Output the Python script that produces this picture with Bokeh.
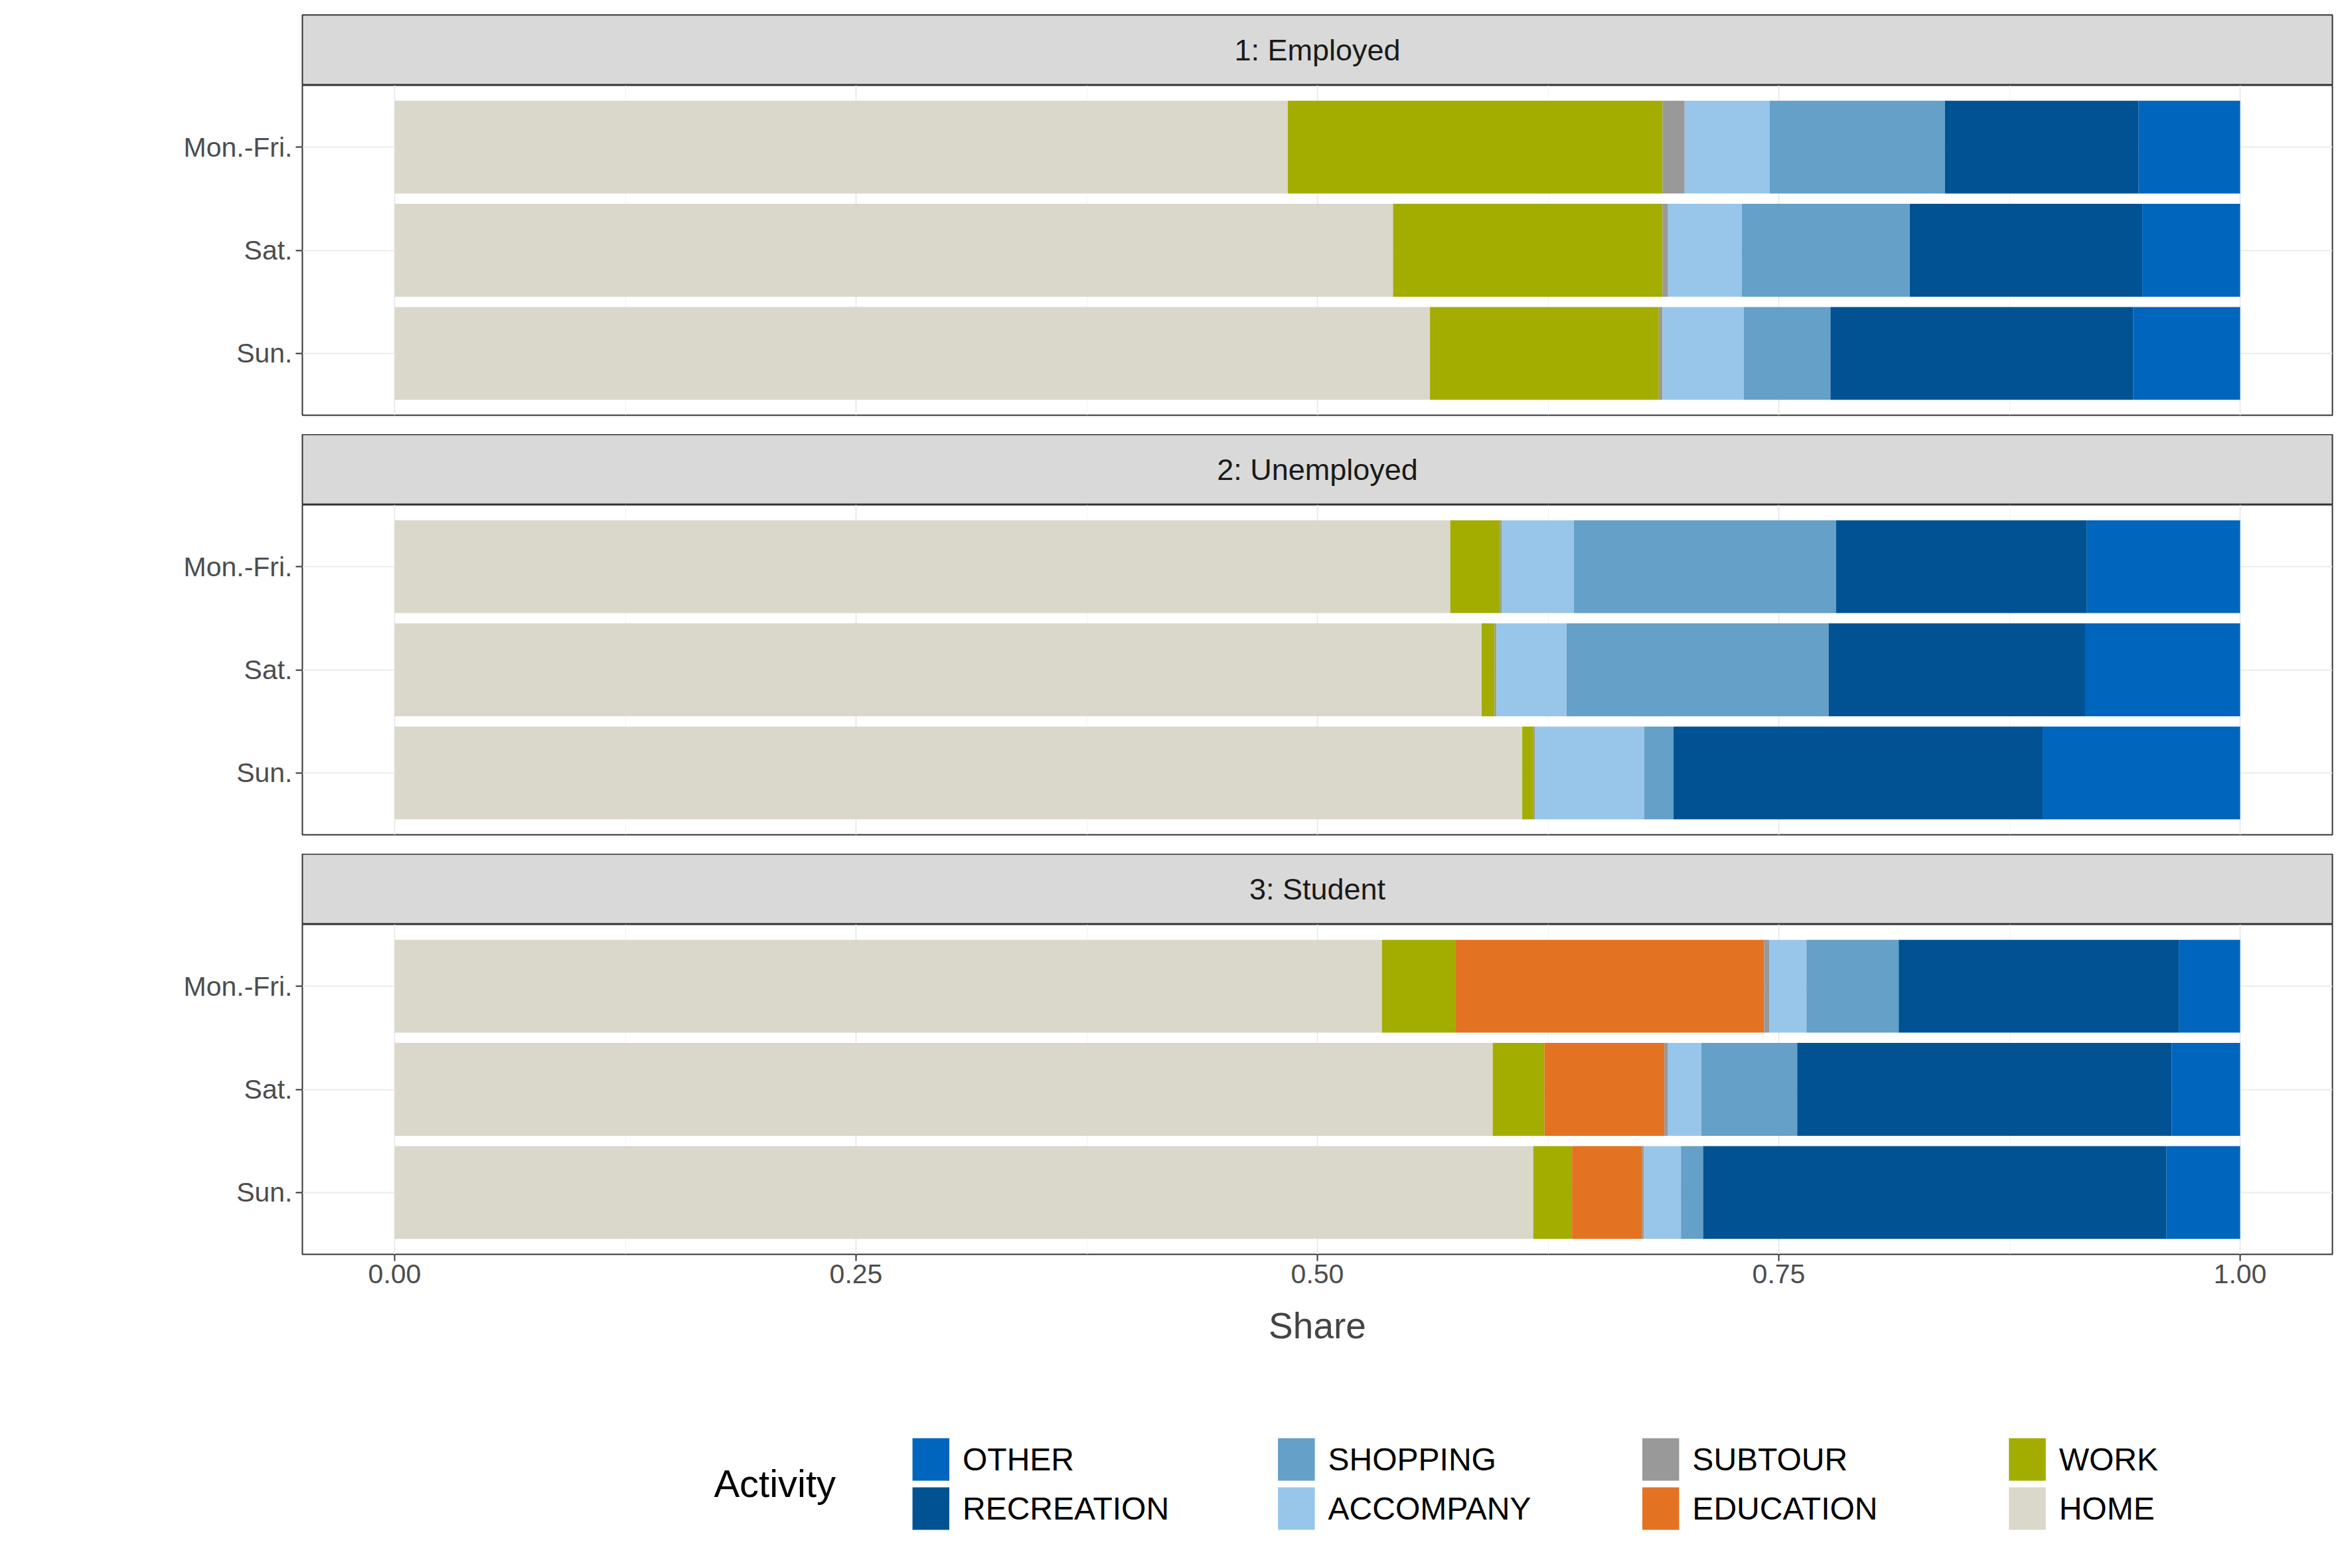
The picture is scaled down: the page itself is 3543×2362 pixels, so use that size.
from bokeh.plotting import figure
from bokeh.layouts import column
from bokeh.models import Range1d, FixedTicker, ColumnDataSource
from bokeh.embed import file_html
from bokeh.resources import INLINE
from bokeh.core.properties import value

groups = ["1: Employed", "2: Unemployed", "3: Student"]
days = ["Mon.-Fri.", "Sat.", "Sun."]
activities = ["HOME", "WORK", "EDUCATION", "SUBTOUR", "ACCOMPANY", "SHOPPING", "RECREATION", "OTHER"]
colors = ["#DAD7CB", "#A2AD00", "#E37222", "#999999", "#98C6EA", "#64A0C8", "#005293", "#0065BD"]
# shares per group, per day (Mon.-Fri., Sat., Sun.), in activity order
shares = {
    "1: Employed": [
        [0.484, 0.203, 0.000, 0.012, 0.046, 0.095, 0.105, 0.055],
        [0.541, 0.146, 0.000, 0.003, 0.040, 0.091, 0.126, 0.053],
        [0.561, 0.124, 0.000, 0.002, 0.044, 0.047, 0.164, 0.058],
    ],
    "2: Unemployed": [
        [0.572, 0.027, 0.000, 0.001, 0.039, 0.142, 0.136, 0.083],
        [0.589, 0.007, 0.000, 0.001, 0.038, 0.142, 0.139, 0.084],
        [0.611, 0.006, 0.000, 0.001, 0.059, 0.016, 0.200, 0.107],
    ],
    "3: Student": [
        [0.535, 0.040, 0.167, 0.003, 0.020, 0.050, 0.152, 0.033],
        [0.595, 0.028, 0.065, 0.002, 0.018, 0.052, 0.203, 0.037],
        [0.617, 0.021, 0.038, 0.001, 0.020, 0.012, 0.251, 0.040],
    ],
}
x_ticks = [0.0, 0.25, 0.5, 0.75, 1.0]
x_tick_labels = ["0.00", "0.25", "0.50", "0.75", "1.00"]

W = 3527
LEFT = 455
RIGHT = 14
FONT = "Liberation Sans"
ypos = {d: 3 - i for i, d in enumerate(days)}

def strip(title, top=0):
    s = figure(width=W, height=106 + top, x_range=Range1d(0, 1), y_range=Range1d(0, 1),
               toolbar_location=None, output_backend="svg",
               min_border_left=LEFT, min_border_right=RIGHT, min_border_top=top, min_border_bottom=0)
    s.axis.visible = False
    s.grid.visible = False
    s.background_fill_color = "#D9D9D9"
    s.outline_line_color = "#333333"
    s.outline_line_width = 2
    s.text(x=[0.5], y=[0.5], text=[title], text_align="center", text_baseline="middle",
           text_font=value(FONT), text_font_size="45px", text_color="#1A1A1A")
    return s

def panel(g, bottom):
    h = 497 + (215 if bottom else 29)
    p = figure(width=W, height=h, x_range=Range1d(-0.05, 1.05), y_range=Range1d(0.4, 3.6),
               toolbar_location=None, output_backend="svg",
               min_border_left=LEFT, min_border_right=RIGHT, min_border_top=0,
               min_border_bottom=(215 if bottom else 29))
    p.outline_line_color = "#333333"
    p.outline_line_width = 2
    p.xgrid.ticker = FixedTicker(ticks=x_ticks, minor_ticks=[0.125, 0.375, 0.625, 0.875])
    p.ygrid.ticker = FixedTicker(ticks=[1, 2, 3])
    p.grid.grid_line_color = "#EBEBEB"
    p.grid.grid_line_width = 2
    p.xgrid.minor_grid_line_color = "#F4F4F4"
    p.xgrid.minor_grid_line_width = 1
    for d_i, d in enumerate(days):
        left = 0.0
        vals = shares[g][d_i]
        tot = sum(vals)
        for a_i, a in enumerate(activities):
            v = vals[a_i] / tot
            if v > 0:
                p.hbar(y=[ypos[d]], left=[left], right=[left + v], height=0.9,
                       fill_color=colors[a_i], line_color=None)
            left += v
    p.yaxis.ticker = FixedTicker(ticks=[1, 2, 3])
    p.yaxis.major_label_overrides = {ypos[d]: d for d in days}
    p.yaxis.major_label_text_font = FONT
    p.yaxis.major_label_text_font_size = "41px"
    p.yaxis.major_label_text_color = "#4D4D4D"
    p.yaxis.axis_line_color = None
    p.yaxis.major_tick_line_color = "#333333"
    p.yaxis.major_tick_line_width = 2
    p.yaxis.major_tick_out = 10
    p.yaxis.major_tick_in = 0
    p.yaxis.minor_tick_line_color = None
    if bottom:
        p.xaxis.ticker = FixedTicker(ticks=x_ticks)
        p.xaxis.major_label_overrides = dict(zip(x_ticks, x_tick_labels))
        p.xaxis.major_label_text_font = FONT
        p.xaxis.major_label_text_font_size = "41px"
        p.xaxis.major_label_text_color = "#4D4D4D"
        p.xaxis.axis_line_color = None
        p.xaxis.major_tick_line_color = "#333333"
        p.xaxis.major_tick_line_width = 2
        p.xaxis.major_tick_out = 10
        p.xaxis.major_tick_in = 0
        p.xaxis.minor_tick_line_color = None
        p.xaxis.axis_label = "Share"
        p.xaxis.axis_label_text_font = FONT
        p.xaxis.axis_label_text_font_size = "55px"
        p.xaxis.axis_label_text_font_style = "normal"
        p.xaxis.axis_label_standoff = 30
    else:
        p.xaxis.visible = False
    return p

figs = []
for i, g in enumerate(groups):
    figs.append(strip(g, top=22 if i == 0 else 0))
    figs.append(panel(g, i == 2))

# y-axis title drawn in the middle panel
figs[3].text(x=[-0.05], y=[2.0], text=["Day of Week"], x_offset=-LEFT + 50, angle=1.5708,
             text_align="center", text_baseline="middle", text_font=value(FONT),
             text_font_size="55px", text_color="#000000")
figs[3].x_range = Range1d(-0.05, 1.05)

# legend
leg = figure(width=W, height=242, x_range=Range1d(0, W), y_range=Range1d(242, 0),
             toolbar_location=None, output_backend="svg",
             min_border_left=0, min_border_right=0, min_border_top=0, min_border_bottom=0)
leg.axis.visible = False
leg.grid.visible = False
leg.outline_line_color = None
leg.text(x=[715], y=[130], text=["Activity"], text_align="left", text_baseline="middle",
         text_font=value(FONT), text_font_size="58px")
legend_order = [["OTHER", "RECREATION"], ["SHOPPING", "ACCOMPANY"], ["SUBTOUR", "EDUCATION"], ["WORK", "HOME"]]
key_x = [1092, 1727, 2360, 2997]
row_y = [94, 168]
for c, col in enumerate(legend_order):
    for r, a in enumerate(col):
        leg.rect(x=[key_x[c]], y=[row_y[r]], width=64, height=64,
                 fill_color=colors[activities.index(a)], line_color=None)
        leg.text(x=[key_x[c] + 55], y=[row_y[r]], text=[a], text_align="left",
                 text_baseline="middle", text_font=value(FONT), text_font_size="48px")
figs.append(leg)

page = column(*figs, spacing=0)
open("out.html", "w").write(file_html(page, INLINE))
